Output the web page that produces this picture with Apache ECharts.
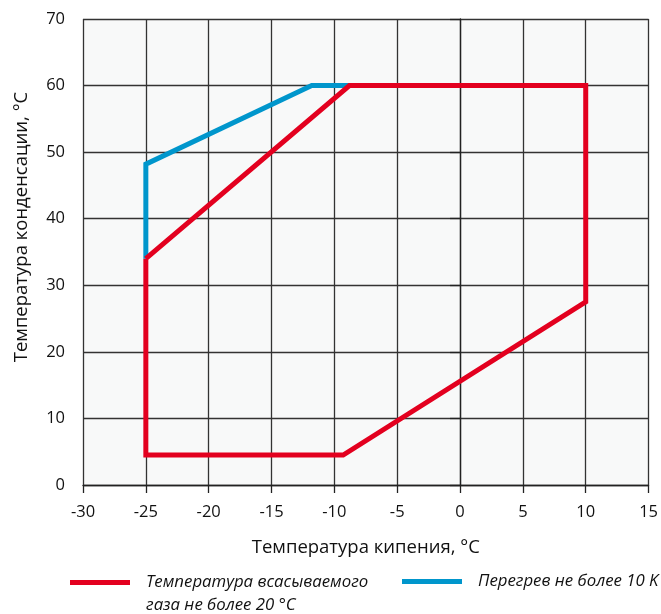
<!DOCTYPE html>
<html><head><meta charset="utf-8">
<script src="https://cdn.jsdelivr.net/npm/echarts@6/dist/echarts.min.js"></script>
<style>html,body{margin:0;padding:0;background:#fff}#c{width:661px;height:614px}</style>
</head><body><div id="c"></div>
<script>
const xTicks = [-30, -25, -20, -15, -10, -5, 0, 5, 10, 15];
const yTicks = [0, 10, 20, 30, 40, 50, 60, 70];
const seriesNames = ['Температура всасываемого\nгаза не более 20 °C', 'Перегрев не более 10 K'];
const redX = [-25, -8.8, 10, 10, -9.3, -25, -25];
const redY = [34, 60, 60, 27.5, 4.5, 4.5, 34];
const blueX = [-25, -25, -11.8, -8.8];
const blueY = [34, 48.2, 60, 60];

const chart = echarts.init(document.getElementById('c'));
const font = 'Open Sans';
const legendText = {fontFamily: font, fontStyle: 'italic', fontSize: 16.8, color: '#111', lineHeight: 23, padding: [0, 0, 0, 11]};
chart.setOption({
  animation: false,
  grid: {left: 83, right: 12, top: 19, bottom: 129, show: true, backgroundColor: '#f8f9f9', borderWidth: 0},
  xAxis: {
    type: 'value', min: xTicks[0], max: xTicks[xTicks.length-1], interval: 5,
    name: 'Температура кипения, °C', nameLocation: 'middle', nameGap: 53,
    nameTextStyle: {fontFamily: font, fontSize: 18.5, color: '#111'},
    axisLine: {show: true, onZero: false, lineStyle: {color: '#222', width: 1.3}},
    axisTick: {show: true, length: 8, lineStyle: {color: '#222', width: 1.3}},
    axisLabel: {fontFamily: font, fontSize: 16.5, color: '#111', margin: 19},
    splitLine: {show: true, lineStyle: {color: '#333', width: 1.3}}
  },
  yAxis: {
    type: 'value', min: yTicks[0], max: yTicks[yTicks.length-1], interval: 10,
    name: 'Температура конденсации, °C', nameLocation: 'middle', nameGap: 52,
    nameTextStyle: {fontFamily: font, fontSize: 18.5, color: '#111', padding: [0, 0, 0, 50]},
    axisLine: {show: true, lineStyle: {color: '#222', width: 1.3}},
    axisTick: {show: true, length: 10, lineStyle: {color: '#222', width: 1.3}},
    axisLabel: {fontFamily: font, fontSize: 16.5, color: '#111', margin: 18},
    splitLine: {show: true, lineStyle: {color: '#333', width: 1.3}}
  },
  legend: [
    {data: [seriesNames[0]], left: 70, top: 548, padding: 0, icon: 'rect', itemWidth: 60, itemHeight: 5, itemGap: 10,
     formatter: n => '\n' + n, textStyle: legendText},
    {data: [seriesNames[1]], left: 402, top: 570, padding: 0, icon: 'rect', itemWidth: 60, itemHeight: 5,
     textStyle: legendText}
  ],
  series: [
    {name: seriesNames[0], type: 'line', data: redX.map((x,i)=>[x, redY[i]]), showSymbol: false, symbol: 'none',
     lineStyle: {color: '#e3001f', width: 5, join: 'miter'}, itemStyle: {color: '#e3001f'}, z: 3},
    {name: seriesNames[1], type: 'line', data: blueX.map((x,i)=>[x, blueY[i]]), showSymbol: false, symbol: 'none',
     lineStyle: {color: '#0096cc', width: 5, join: 'miter'}, itemStyle: {color: '#0096cc'}, z: 2}
  ]
});
</script></body></html>
